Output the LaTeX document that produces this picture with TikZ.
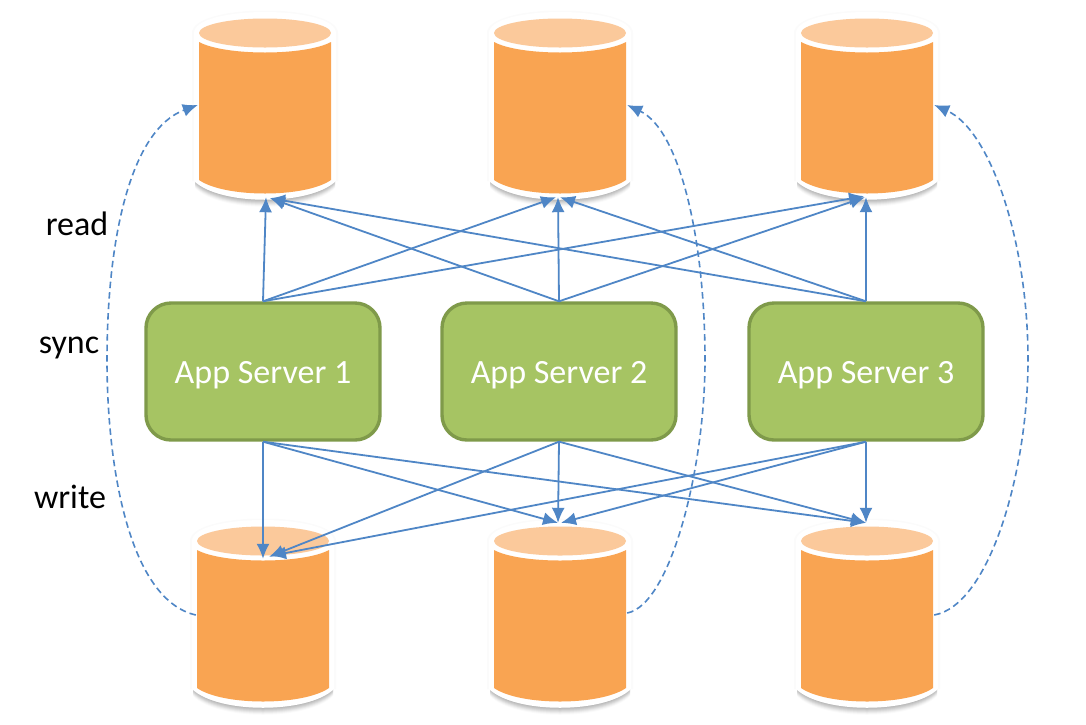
\documentclass[tikz,border=0pt]{standalone}
\usepackage{fontspec}
\setmainfont{Carlito}
\usetikzlibrary{arrows.meta}
\definecolor{drumbody}{HTML}{F9A452}
\definecolor{drumlid}{HTML}{FBC99B}
\definecolor{boxfill}{HTML}{A6C463}
\definecolor{boxline}{HTML}{7F9A4A}
\definecolor{wire}{HTML}{4F86C6}
\tikzset{
  x=1pt,y=-1pt,
  server/.style={draw=boxline,line width=3.4pt,fill=boxfill,rounded corners=25pt,
    minimum width=234pt,minimum height=137pt,inner sep=0pt,text=white,
    text height=30pt,text depth=6pt,font=\fontsize{34}{40}\selectfont},
  tag/.style={font=\fontsize{34}{40}\selectfont,text=black,inner sep=0pt},
  anchorbox/.style={minimum width=134pt,minimum height=176pt,inner sep=0pt},
  wirelink/.style={wire,line width=1.8pt,-{Latex[length=15pt,width=13pt]}},
  synclink/.style={wire,line width=1.6pt,dash pattern=on 6.5pt off 4pt,-{Latex[length=15pt,width=13pt]}}
}
% \drum{name}{centre x}{top y}{bottom y}: a storage drum with white rim and soft shadow
\newcommand{\drum}[4]{%
  \foreach \sh/\op in {7/0.02,6/0.03,5/0.04,4/0.05,3/0.05,2/0.05,1/0.05}{
    \fill[black,opacity=\op]
      (#2-70,#3+15+\sh) -- (#2-70,#4-13+\sh)
      .. controls (#2-45,#4+12+\sh) and (#2+45,#4+12+\sh) .. (#2+70,#4-13+\sh)
      -- (#2+70,#3+15+\sh) -- cycle;
  }
  \fill[black,opacity=0.015] (#2-73,#3+14)
      .. controls (#2-73,#3-16) and (#2+73,#3-16) .. (#2+73,#3+14)
      -- (#2+73,#4-13) -- (#2-73,#4-13) -- cycle;
  \fill[white] (#2-71,#3+14)
      .. controls (#2-71,#3-14) and (#2+71,#3-14) .. (#2+71,#3+14)
      -- (#2+71,#4-13)
      .. controls (#2+45,#4+12) and (#2-45,#4+12) .. (#2-71,#4-13) -- cycle;
  \fill[drumbody] (#2-66,#3+23)
      .. controls (#2-40,#3+37) and (#2+40,#3+37) .. (#2+66,#3+23)
      -- (#2+66,#4-14)
      .. controls (#2+40,#4+4) and (#2-40,#4+4) .. (#2-66,#4-14) -- cycle;
  \fill[drumlid] (#2,#3+14) ellipse [x radius=66pt,y radius=14.5pt];
  \node[anchorbox,minimum height=#4-#3] (#1) at (#2,{(#3+#4)/2}) {};
}
\begin{document}
\begin{tikzpicture}
\useasboundingbox (0,0) rectangle (1086,724);
\fill[white] (0,0) rectangle (1086,724);

% storage drums
\drum{rA}{265}{19}{194}
\drum{rB}{560}{19}{194}
\drum{rC}{867}{19}{194}
\drum{wA}{263}{527}{702}
\drum{wB}{560}{527}{702}
\drum{wC}{867}{527}{702}

% application servers
\node[server] (sA) at (263,371.5) {App Server 1};
\node[server] (sB) at (559,371.5) {App Server 2};
\node[server] (sC) at (866,371.5) {App Server 3};

% row labels
\node[tag] (lr) at (77,224) {read};
\node[tag] (ls) at (69,348) {sync};
\node[tag] (lw) at (70,497) {write};

% reads
\draw[wirelink] (sA.north) -- ([xshift=1pt,yshift=-3pt]rA.south);
\draw[wirelink] (sA.north) -- ([xshift=-4pt,yshift=-3pt]rB.south);
\draw[wirelink] (sA.north) -- ([xshift=-3pt,yshift=-2pt]rC.south);
\draw[wirelink] (sB.north) -- ([xshift=5pt,yshift=-4pt]rA.south);
\draw[wirelink] (sB.north) -- ([xshift=-2pt,yshift=-3pt]rB.south);
\draw[wirelink] (sB.north) -- ([xshift=-2pt,yshift=-3pt]rC.south);
\draw[wirelink] (sC.north) -- ([xshift=5pt,yshift=-4pt]rA.south);
\draw[wirelink] (sC.north) -- ([xshift=0pt,yshift=-3pt]rB.south);
\draw[wirelink] (sC.north) -- ([xshift=-1pt,yshift=-3pt]rC.south);

% writes
\draw[wirelink] (sA.south) -- ([xshift=0pt,yshift=-32pt]wA.north);
\draw[wirelink] (sA.south) -- ([xshift=-2pt,yshift=4pt]wB.north);
\draw[wirelink] (sA.south) -- ([xshift=-1pt,yshift=4pt]wC.north);
\draw[wirelink] (sB.south) -- ([xshift=6pt,yshift=-30pt]wA.north);
\draw[wirelink] (sB.south) -- ([xshift=-2pt,yshift=4pt]wB.north);
\draw[wirelink] (sB.south) -- ([xshift=-1pt,yshift=4pt]wC.north);
\draw[wirelink] (sC.south) -- ([xshift=8pt,yshift=-29pt]wA.north);
\draw[wirelink] (sC.south) -- ([xshift=1pt,yshift=4pt]wB.north);
\draw[wirelink] (sC.south) -- ([xshift=-1pt,yshift=4pt]wC.north);

% replica sync
\draw[synclink] (wA.west |- 0,615) .. controls (130,600) and (107,470) .. (107,360)
   .. controls (107,240) and (130,130) .. (rA.west |- 0,105);
\draw[synclink] (wB.east |- 0,613) .. controls (670,605) and (705,470) .. (705,360)
   .. controls (705,240) and (680,130) .. (rB.east |- 0,105);
\draw[synclink] (wC.east |- 0,615) .. controls (990,605) and (1028,470) .. (1028,360)
   .. controls (1028,240) and (990,130) .. (rC.east |- 0,105);
\end{tikzpicture}
\end{document}
